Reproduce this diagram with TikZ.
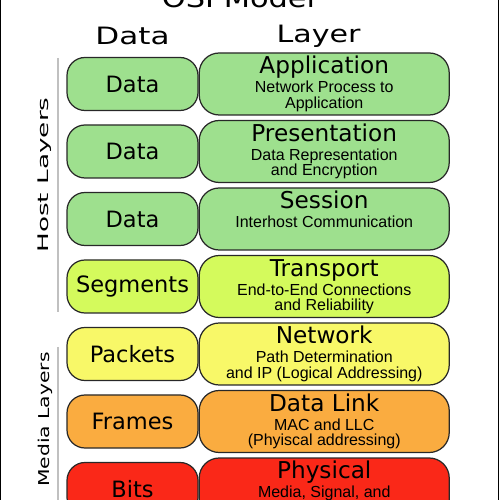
\documentclass[tikz,border=0pt]{standalone}
\usepackage{fontspec}
\setmainfont{DejaVu Sans}
\newfontfamily\subfont{Liberation Sans}
\usetikzlibrary{positioning}
\definecolor{hostgreen}{RGB}{158,224,142}
\definecolor{transgreen}{RGB}{212,250,92}
\definecolor{netyellow}{RGB}{248,248,104}
\definecolor{linkorange}{RGB}{250,172,64}
\definecolor{physred}{RGB}{250,40,24}
\definecolor{edgegray}{RGB}{40,40,40}
\definecolor{bargray}{RGB}{192,192,192}

\begin{document}
\begin{tikzpicture}[
  databox/.style={draw=edgegray, line width=0.7pt, rounded corners=0.36cm,
    minimum width=2.62cm, minimum height=1.06cm, inner sep=0pt,
    font=\fontsize{12.8}{14}\selectfont},
  layerbox/.style={draw=edgegray, line width=0.7pt, rounded corners=0.4cm,
    minimum width=5.0cm, minimum height=1.24cm, inner sep=0pt},
  layertitle/.style={anchor=base, inner sep=0pt, font=\fontsize{13.2}{14}\selectfont},
  layersub/.style={anchor=north, inner sep=0pt, align=center,
    font=\subfont\fontsize{9.1}{8.8}\selectfont},
  sidebar/.style={bargray, line width=1.7pt},
  sidelabel/.style={rotate=90, inner sep=0pt}
]
  \useasboundingbox (0,0) rectangle (10,10);

  % ===== frame edges and title =====
  \draw[line width=0.6pt] (0.01,0) -- (0.01,10);
  \draw[line width=0.6pt] (9.97,0) -- (9.97,10);
  \node[anchor=base, inner sep=0pt, font=\fontsize{14.8}{16}\selectfont] (title) at (4.77,9.84) {\scalebox{1.17}[1]{OSI Model}};

  % ===== column headers =====
  \node[anchor=base, inner sep=0pt, font=\fontsize{13.6}{15}\selectfont] (hdata) at (2.65,9.10) {\scalebox{1.3}[1]{Data}};
  \node[anchor=base, inner sep=0pt, font=\fontsize{13.6}{15}\selectfont] (hlayer) at (6.37,9.14) {\scalebox{1.26}[1]{Layer}};

  % ===== rows: data unit | layer name + role =====
  \foreach \dat/\ttl/\sub/\col [count=\i] in {
    Data/Application/{Network Process to\\Application}/hostgreen,
    Data/Presentation/{Data Representation\\and Encryption}/hostgreen,
    Data/Session/{Interhost Communication}/hostgreen,
    Segments/Transport/{End-to-End Connections\\and Reliability}/transgreen,
    Packets/Network/{Path Determination\\and IP (Logical Addressing)}/netyellow,
    Frames/Data Link/{MAC and LLC\\(Phyiscal addressing)}/linkorange,
    Bits/Physical/{Media, Signal, and}/physred}{
    \node[databox, fill=\col] (d\i) at (2.65,9.67-1.35*\i) {\dat};
    \node[layerbox, fill=\col, right=0pt of d\i] (l\i) {};
    \node[layertitle] (t\i) at ([yshift=-0.43cm]l\i.north) {\ttl};
    \node[layersub] (s\i) at ([yshift=-0.14cm]t\i.base) {\sub};
  }

  % ===== side groups =====
  \draw[sidebar] (1.16,8.84) -- (1.16,3.76);
  \node[sidelabel, font=\fontsize{8.3}{9}\selectfont] (host) at (0.90,6.50) {\scalebox{1.8}[1]{Host Layers}};
  \draw[sidebar] (1.16,3.06) -- (1.16,0);
  \node[sidelabel, font=\fontsize{8.5}{9}\selectfont] (media) at (0.90,1.61) {\scalebox{1.36}[1]{Media Layers}};
\end{tikzpicture}
\end{document}
